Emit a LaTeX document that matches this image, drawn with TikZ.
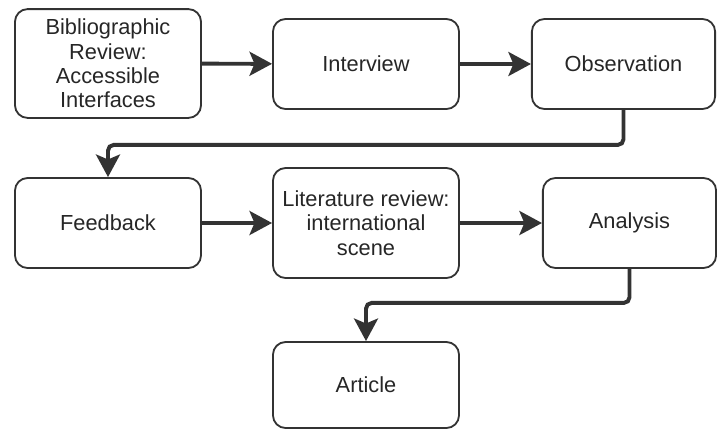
\documentclass[tikz,border=0pt]{standalone}
\usepackage{fontspec}
\setmainfont{Liberation Sans}
\usetikzlibrary{arrows.meta}
\definecolor{inkgray}{HTML}{333333}
\tikzset{
  stage/.style={draw=inkgray, line width=1.3pt, rounded corners=9pt,
    align=center, text=black!85, inner sep=2pt,
    font=\fontsize{15.5}{17.3}\selectfont},
  flow/.style={draw=inkgray, line width=2.8pt, rounded corners=4pt,
    -{Stealth[length=16pt,width=17pt,inset=3.5pt]}}
}
\begin{document}
\begin{tikzpicture}[x=0.025cm, y=-0.025cm]
      \useasboundingbox (0,0) rectangle (717,429);
      \node[stage, minimum width=4.65cm, minimum height=2.72cm] (bib) at (108,63.5)
        {Bibliographic\\Review:\\Accessible\\Interfaces};
      \node[stage, minimum width=4.65cm, minimum height=2.25cm] (int) at (366,64) {Interview};
      \node[stage, minimum width=4.58cm, minimum height=2.25cm] (obs) at (623.5,64) {Observation};
      \node[stage, minimum width=4.65cm, minimum height=2.25cm] (fb) at (108,223) {Feedback};
      \node[stage, minimum width=4.65cm, minimum height=2.75cm] (lit) at (366,223)
        {Literature review:\\international\\scene};
      \node[stage, minimum width=4.33cm, minimum height=2.25cm] (ana) at (629.5,223) {Analysis};
      \node[stage, minimum width=4.65cm, minimum height=2.15cm] (art) at (366,385) {Article};
      \begin{scope}[flow]
        \draw (bib) -- (int);
        \draw (int) -- (obs);
        \draw (obs.south) -- ++(0,35) -| (fb.north);
        \draw (fb) -- (lit);
        \draw (lit) -- (ana);
        \draw (ana.south) -- ++(0,34) -| (art.north);
      \end{scope}
    \end{tikzpicture}
\end{document}
